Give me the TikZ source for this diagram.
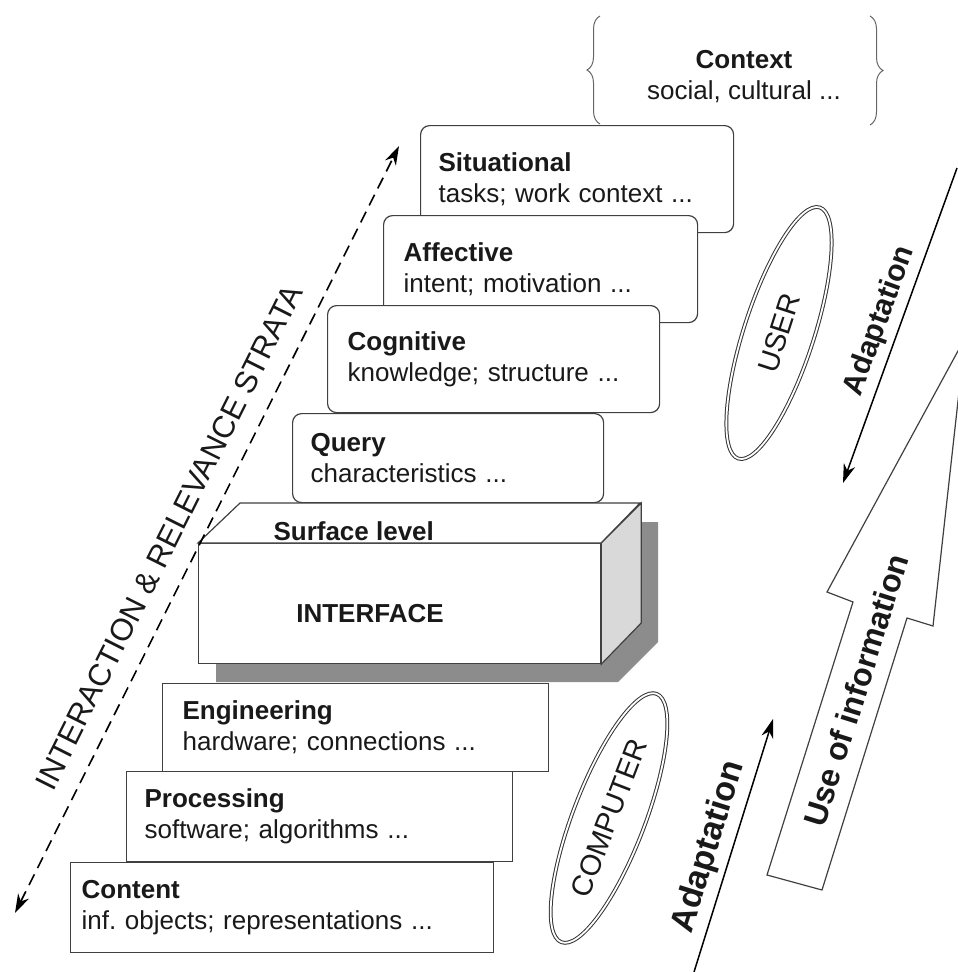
\documentclass[tikz,border=0pt]{standalone}
\usepackage{fontspec}
\setmainfont{Liberation Sans}
\usetikzlibrary{arrows.meta}
\usetikzlibrary{shapes.geometric}
\usetikzlibrary{decorations.pathreplacing}
\frenchspacing

\begin{document}
\begin{tikzpicture}[x=1pt, y=-1pt,
    every node/.style={text=black!90},
    stratum/.style={draw=black!75, line width=1.2pt, fill=white, anchor=north west,
        align=left, inner xsep=19pt, font=\fontsize{26}{31}\selectfont},
    rstratum/.style={stratum, rounded corners=9pt},
    side/.style={draw=black!75, line width=1.2pt},
    tag/.style={font=\fontsize{30}{36}\selectfont\bfseries, inner sep=1pt},
    actor/.style={ellipse, draw=black!80, double, double distance=1.8pt, line width=1pt,
        inner sep=0pt, font=\fontsize{29}{34}\selectfont},
    thin arrow/.style={line width=1.5pt, -{Stealth[length=19pt, width=12pt, inset=6pt]}}]

  \useasboundingbox (0,0) rectangle (958,972);

  % context
  \draw[decorate, decoration={brace, amplitude=13pt}, draw=black!60, line width=1pt]
    (600,124) -- (600,16);
  \draw[decorate, decoration={brace, amplitude=13pt}, draw=black!60, line width=1pt]
    (870,16) -- (870,125);
  \node[align=center, font=\fontsize{26}{31}\selectfont] (context) at (744,77)
    {\textbf{Context}\\social, cultural ...};

  % user side strata
  \node[rstratum, minimum width=313pt, minimum height=107pt, inner xsep=18pt, text width=277pt] (situational) at (420,125)
    {\textbf{Situational}\\tasks; work context ...};
  \node[rstratum, minimum width=314pt, minimum height=107pt, inner xsep=20pt, text width=274pt] (affective) at (383,215)
    {\textbf{Affective}\\intent; motivation ...};
  \node[rstratum, minimum width=332pt, minimum height=107pt, inner xsep=20pt, text width=292pt] (cognitive) at (327,305)
    {\textbf{Cognitive}\\knowledge; structure ...};
  \node[rstratum, minimum width=311pt, minimum height=89pt, inner xsep=18pt, text width=275pt] (query) at (292,413)
    {\textbf{Query}\\characteristics ...};

  % interface block with its shadow
  \fill[black!45] (216,562) -- (258,522) -- (658,522) -- (658,642) -- (618,682) -- (216,682) -- cycle;
  \node[side, fill=white, anchor=north west, minimum width=402pt, minimum height=120pt, inner sep=0pt] (interface) at (198,543) {};
  \draw[side, fill=white] (interface.north west) -- ++(42,-40) -- ++(400,0) -- (interface.north east) -- cycle;
  \draw[side, fill=black!15] (interface.north east) -- ++(40,-40) -- ++(0,120) -- (interface.south east) -- cycle;
  \node[anchor=base west, font=\fontsize{26}{31}\selectfont\bfseries] (surface) at (270,540) {Surface level};
  \node[anchor=base, font=\fontsize{26}{31}\selectfont\bfseries] (interfacetext) at (370,622) {INTERFACE};

  % computer side strata
  \node[stratum, minimum width=386pt, minimum height=88pt, inner xsep=20pt, text width=346pt] (engineering) at (162,683)
    {\textbf{Engineering}\\hardware; connections ...};
  \node[stratum, minimum width=386pt, minimum height=90pt, inner xsep=18pt, text width=350pt] (processing) at (126,771)
    {\textbf{Processing}\\software; algorithms ...};
  \node[stratum, minimum width=423pt, minimum height=90pt, inner xsep=11pt, text width=401pt] (content) at (70,862)
    {\textbf{Content}\\inf. objects; representations ...};

  % strata axis
  \coordinate (strataS) at (15,913);
  \coordinate (strataN) at (399,146);
  \draw[line width=1.6pt, dash pattern=on 12pt off 7pt,
    {Stealth[length=19pt, width=12pt, inset=6pt]}-{Stealth[length=19pt, width=12pt, inset=6pt]}]
    (strataS) -- (strataN);
  \node[rotate=63.4, font=\fontsize{31}{36}\selectfont, inner sep=0pt] (strata) at (169,537)
    {INTERACTION \& RELEVANCE STRATA};

  % actors
  \node[actor, rotate=72, minimum width=264pt, minimum height=70pt] (user) at (779,333) {USER};
  \node[actor, rotate=69, minimum width=266pt, minimum height=72pt] (computer) at (609,818) {COMPUTER};

  % adaptation
  \coordinate (adaptUtop) at (957,168);
  \coordinate (adaptUtip) at (843,483);
  \draw[thin arrow] (adaptUtop) -- (adaptUtip);
  \node[tag, rotate=70] (adaptU) at (880,321) {Adaptation};
  \coordinate (adaptLbot) at (694,972);
  \coordinate (adaptLtip) at (773,719);
  \draw[thin arrow] (adaptLbot) -- (adaptLtip);
  \node[tag, font=\fontsize{34}{40}\selectfont\bfseries, rotate=72.7] (adaptL) at (709,847) {Adaptation};

  % use of information
  \draw[side, fill=white] (767,875) -- (853,602) -- (827,592) -- (965,338) -- (933,626) -- (907,618) -- (822,890) -- cycle;
  \node[tag, font=\fontsize{32}{38}\selectfont\bfseries, rotate=72.6] (use) at (856,690) {Use of information};
\end{tikzpicture}
\end{document}
